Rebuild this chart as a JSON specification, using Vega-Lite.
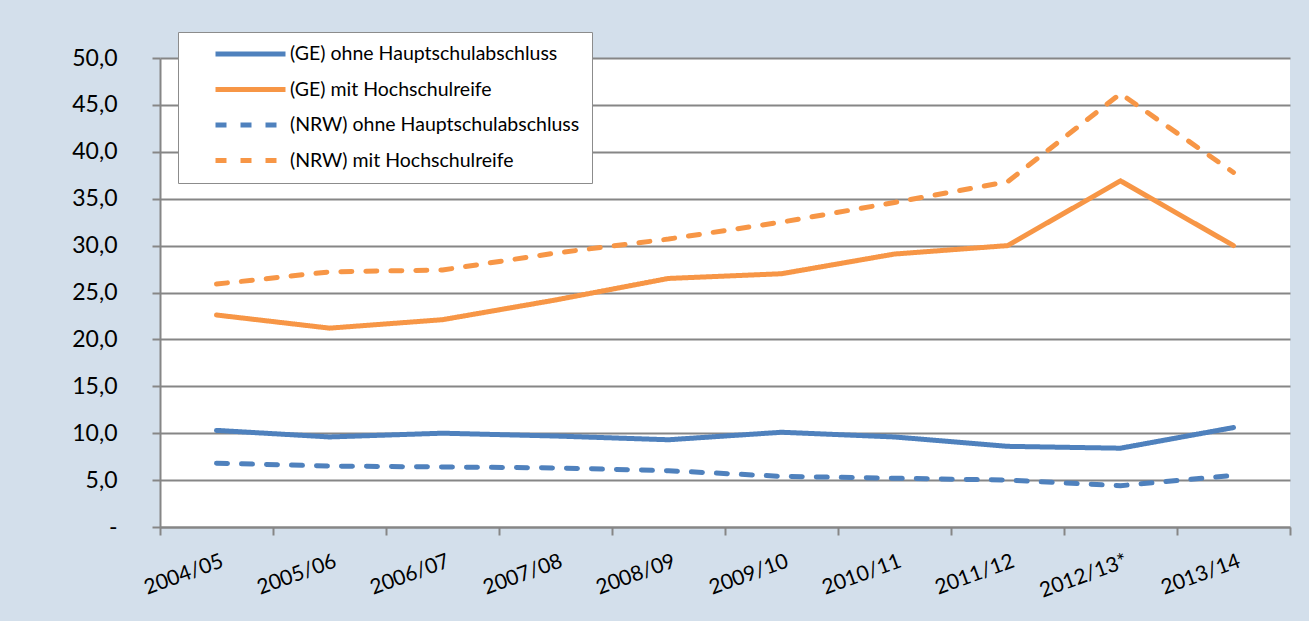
{
  "$schema": "https://vega.github.io/schema/vega-lite/v6.json",
  "width": 1130,
  "height": 469,
  "autosize": {"type": "none"},
  "padding": {"left": 160, "top": 58, "right": 19, "bottom": 94},
  "background": "#D3DFEB",
  "config": {"view": {"fill": "white", "stroke": null}, "font": "Lato"},
  "data": {"values": [
    {"year": "2004/05", "series": "(GE) ohne Hauptschulabschluss", "value": 10.3},
    {"year": "2005/06", "series": "(GE) ohne Hauptschulabschluss", "value": 9.6},
    {"year": "2006/07", "series": "(GE) ohne Hauptschulabschluss", "value": 10.0},
    {"year": "2007/08", "series": "(GE) ohne Hauptschulabschluss", "value": 9.7},
    {"year": "2008/09", "series": "(GE) ohne Hauptschulabschluss", "value": 9.3},
    {"year": "2009/10", "series": "(GE) ohne Hauptschulabschluss", "value": 10.1},
    {"year": "2010/11", "series": "(GE) ohne Hauptschulabschluss", "value": 9.6},
    {"year": "2011/12", "series": "(GE) ohne Hauptschulabschluss", "value": 8.6},
    {"year": "2012/13*", "series": "(GE) ohne Hauptschulabschluss", "value": 8.4},
    {"year": "2013/14", "series": "(GE) ohne Hauptschulabschluss", "value": 10.6},
    {"year": "2004/05", "series": "(GE) mit Hochschulreife", "value": 22.6},
    {"year": "2005/06", "series": "(GE) mit Hochschulreife", "value": 21.2},
    {"year": "2006/07", "series": "(GE) mit Hochschulreife", "value": 22.1},
    {"year": "2007/08", "series": "(GE) mit Hochschulreife", "value": 24.2},
    {"year": "2008/09", "series": "(GE) mit Hochschulreife", "value": 26.5},
    {"year": "2009/10", "series": "(GE) mit Hochschulreife", "value": 27.0},
    {"year": "2010/11", "series": "(GE) mit Hochschulreife", "value": 29.1},
    {"year": "2011/12", "series": "(GE) mit Hochschulreife", "value": 30.0},
    {"year": "2012/13*", "series": "(GE) mit Hochschulreife", "value": 36.9},
    {"year": "2013/14", "series": "(GE) mit Hochschulreife", "value": 30.0},
    {"year": "2004/05", "series": "(NRW) ohne Hauptschulabschluss", "value": 6.8},
    {"year": "2005/06", "series": "(NRW) ohne Hauptschulabschluss", "value": 6.5},
    {"year": "2006/07", "series": "(NRW) ohne Hauptschulabschluss", "value": 6.4},
    {"year": "2007/08", "series": "(NRW) ohne Hauptschulabschluss", "value": 6.3},
    {"year": "2008/09", "series": "(NRW) ohne Hauptschulabschluss", "value": 6.0},
    {"year": "2009/10", "series": "(NRW) ohne Hauptschulabschluss", "value": 5.4},
    {"year": "2010/11", "series": "(NRW) ohne Hauptschulabschluss", "value": 5.2},
    {"year": "2011/12", "series": "(NRW) ohne Hauptschulabschluss", "value": 5.0},
    {"year": "2012/13*", "series": "(NRW) ohne Hauptschulabschluss", "value": 4.4},
    {"year": "2013/14", "series": "(NRW) ohne Hauptschulabschluss", "value": 5.5},
    {"year": "2004/05", "series": "(NRW) mit Hochschulreife", "value": 25.9},
    {"year": "2005/06", "series": "(NRW) mit Hochschulreife", "value": 27.2},
    {"year": "2006/07", "series": "(NRW) mit Hochschulreife", "value": 27.4},
    {"year": "2007/08", "series": "(NRW) mit Hochschulreife", "value": 29.2},
    {"year": "2008/09", "series": "(NRW) mit Hochschulreife", "value": 30.7},
    {"year": "2009/10", "series": "(NRW) mit Hochschulreife", "value": 32.5},
    {"year": "2010/11", "series": "(NRW) mit Hochschulreife", "value": 34.6},
    {"year": "2011/12", "series": "(NRW) mit Hochschulreife", "value": 36.8},
    {"year": "2012/13*", "series": "(NRW) mit Hochschulreife", "value": 46.2},
    {"year": "2013/14", "series": "(NRW) mit Hochschulreife", "value": 37.8}
  ]},
  "mark": {"type": "line", "strokeWidth": 5, "strokeCap": "round", "strokeJoin": "round"},
  "encoding": {
    "x": {
      "field": "year", "type": "nominal", "sort": null,
      "scale": {"type": "band", "paddingInner": 0, "paddingOuter": 0},
      "axis": {
        "title": null, "grid": false, "tickBand": "extent",
        "domainColor": "#868686", "domainWidth": 2,
        "tickColor": "#868686", "tickWidth": 2, "tickSize": 8,
        "labelAngle": -20, "labelAlign": "right", "labelBaseline": "top",
        "labelFontSize": 21, "labelColor": "#000000",
        "labelPadding": 15, "labelOffset": 2
      }
    },
    "y": {
      "field": "value", "type": "quantitative",
      "scale": {"domain": [0, 50]},
      "axis": {
        "title": null, "values": [0, 5, 10, 15, 20, 25, 30, 35, 40, 45, 50],
        "labelExpr": "datum.value == 0 ? '-\u00a0\u00a0\u00a0' : replace(format(datum.value, '.1f'), '.', ',')",
        "grid": true, "gridColor": "#868686", "gridWidth": 2,
        "domainColor": "#868686", "domainWidth": 2,
        "tickColor": "#868686", "tickWidth": 2, "tickSize": 8,
        "labelFontSize": 23, "labelColor": "#000000", "labelPadding": 35
      }
    },
    "color": {
      "field": "series", "type": "nominal",
      "scale": {
        "domain": ["(GE) ohne Hauptschulabschluss", "(GE) mit Hochschulreife", "(NRW) ohne Hauptschulabschluss", "(NRW) mit Hochschulreife"],
        "range": ["#4F81BD", "#F79646", "#4F81BD", "#F79646"]
      },
      "legend": {
        "title": null, "orient": "none", "legendX": 18, "legendY": -26,
        "fillColor": "white", "strokeColor": "#8C8C8C", "padding": 12,
        "symbolType": "stroke", "symbolSize": 4900, "symbolStrokeWidth": 5,
        "symbolOffset": 23, "labelFontSize": 19.5, "labelColor": "#000000",
        "labelOffset": 2, "clipHeight": 20, "rowPadding": 15.5, "labelLimit": 500
      }
    },
    "strokeDash": {
      "field": "series", "type": "nominal",
      "scale": {
        "domain": ["(GE) ohne Hauptschulabschluss", "(GE) mit Hochschulreife", "(NRW) ohne Hauptschulabschluss", "(NRW) mit Hochschulreife"],
        "range": [[1, 0], [1, 0], [11, 14], [11, 14]]
      }
    }
  }
}
